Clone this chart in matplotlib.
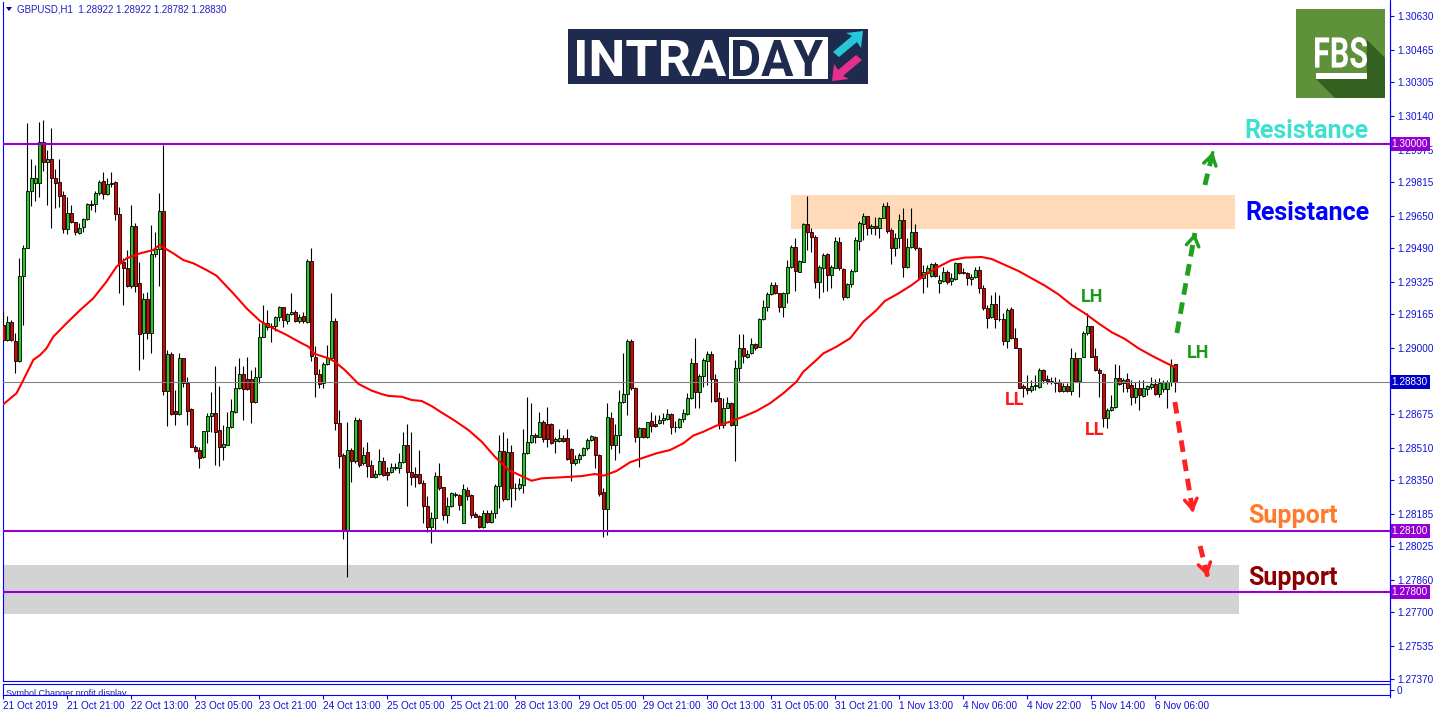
import numpy as np
import matplotlib
matplotlib.use("Agg")
import matplotlib.pyplot as plt
from matplotlib.transforms import Affine2D, blended_transform_factory
from matplotlib.patches import Rectangle, Polygon, PathPatch
from matplotlib.lines import Line2D
from matplotlib.textpath import TextPath
from matplotlib.font_manager import FontProperties

# ---------------- data (GBPUSD H1, prices in points = 1e-5) ----------------
opens_pts = [
129113,129039,129126,129034,128936,129354,129493,129770,129809,129809,
130014,129913,129927,129834,129816,129752,129583,129665,129618,129567,
129592,129633,129706,129706,129760,129819,129759,129805,129816,129657,
129423,129392,129306,129598,129318,129072,129239,129072,129462,129485,
129672,128790,128969,128690,128677,128949,128826,128698,128515,128498,
128462,128590,128666,128679,128597,128515,128525,128610,128687,128803,
128870,128846,128846,128736,128859,129056,129105,129108,129108,129151,
129200,129134,129167,129177,129134,129157,129129,129429,128957,128872,
128826,128919,128952,129132,128629,128474,128100,128498,128446,128646,
128433,128487,128424,128367,128379,128446,128392,128390,128410,128408,
128438,128521,128392,128380,128379,128334,128225,128121,128162,128370,
128315,128179,128223,128277,128277,128138,128302,128277,128182,128174,
128118,128187,128146,128190,128321,128493,128256,128488,128310,128310,
128326,128482,128536,128572,128564,128634,128626,128626,128544,128544,
128557,128557,128501,128436,128454,128472,128506,128546,128564,128474,
128290,128206,128654,128523,128572,128733,128772,129036,128805,128560,
128605,128564,128641,128626,128633,128644,128651,128674,128610,128610,
128649,128674,128752,128924,128785,128864,128937,128968,128847,128752,
128621,128706,128728,128621,128903,128998,128957,128973,129021,129006,
129142,129203,129263,129309,129268,129203,129268,129396,129498,129375,
129424,129608,129572,129547,129326,129395,129460,129358,129395,129519,
129388,129252,129313,129378,129526,129609,129649,129588,129599,129588,
129637,129699,129580,129490,129539,129629,129396,129498,129568,129490,
129342,129367,129352,129411,129317,129329,129372,129329,129339,129416,
129372,129367,129337,129347,129381,129296,129195,129154,129214,129141,
129141,129036,129190,129047,128998,128813,128805,128793,128811,128809,
128891,128847,128834,128829,128834,128790,128814,128790,128949,128839,
128957,129072,129108,128960,128891,128872,128657,128695,128708,128854,
128826,128847,128818,128757,128801,128765,128798,128808,128823,128772,
128798,128796,128834,128922]
highs_pts = [
129179,129157,129138,129072,129441,129506,130104,129927,129900,130109,
130121,129973,130080,129878,129927,129773,129741,129703,129621,129613,
129637,129711,129728,129769,129826,129867,129834,129867,129823,129695,
129441,129482,129703,129613,129424,129269,129277,129605,129572,129760,
129998,128990,128982,128793,128977,128949,128859,128703,128523,128512,
128594,128679,128785,128911,128813,128621,128687,128748,128911,128949,
128911,128957,128892,128908,129121,129211,129187,129121,129157,129206,
129203,129170,129269,129187,129167,129178,129436,129490,129009,128895,
128932,129014,129268,129145,128695,128485,128637,128506,128659,128654,
128515,128539,128449,128400,128501,128465,128416,128433,128433,128482,
128588,128624,128588,128416,128498,128351,128272,128195,128392,128433,
128315,128269,128293,128293,128280,128331,128318,128280,128195,128179,
128203,128203,128203,128329,128572,128588,128556,128523,128334,128359,
128601,128757,128728,128580,128687,128646,128708,128630,128560,128600,
128572,128603,128506,128474,128482,128511,128556,128572,128569,128477,
128310,128728,128687,128624,128793,128973,129044,129044,128810,128610,
128608,128637,128687,128670,128670,128678,128698,128678,128641,128654,
128700,128777,128952,129047,128870,128949,128985,128986,128870,128785,
128755,128760,128736,128941,129067,129067,128990,129047,129023,129149,
129236,129277,129322,129322,129268,129273,129432,129506,129542,129432,
129612,129747,129588,129555,129408,129465,129465,129408,129547,129547,
129394,129321,129386,129547,129624,129662,129649,129608,129645,129642,
129711,129719,129588,129563,129657,129686,129539,129689,129608,129498,
129408,129408,129416,129424,129358,129399,129383,129367,129424,129419,
129395,129372,129362,129399,129404,129309,129211,129260,129277,129260,
129170,129195,129203,129096,129001,128821,128867,128842,128867,128900,
128896,128867,128859,128859,128847,128826,128826,129001,128982,128949,
129083,129170,129108,128998,128900,128875,128703,128769,128919,128916,
128854,128875,128842,128834,128842,128842,128818,128859,128847,128850,
128842,128842,128944,128922]
lows_pts = [
129031,129036,129036,128875,128933,129113,129490,129698,129724,129741,
129870,129703,129588,129687,129695,129564,129560,129613,129556,129560,
129572,129629,129678,129670,129752,129731,129752,129793,129629,129269,
129211,129301,129293,129277,128892,128944,129043,128977,129449,129305,
128769,128616,128671,128621,128671,128810,128621,128515,128490,128412,
128458,128535,128589,128425,128420,128449,128523,128605,128682,128797,
128646,128793,128630,128731,128826,129052,129089,129031,129085,129134,
129105,129118,129162,129129,129121,129121,129124,128937,128757,128801,
128801,128914,128949,128597,128408,128059,127876,128343,128433,128416,
128424,128364,128364,128359,128375,128372,128351,128383,128400,128383,
128436,128223,128326,128315,128331,128138,128097,128039,128105,128302,
128154,128141,128220,128269,128203,128138,128252,128162,128167,128113,
128113,128141,128141,128162,128211,128249,128252,128220,128252,128302,
128285,128479,128531,128531,128560,128539,128515,128528,128485,128539,
128536,128449,128347,128424,128433,128469,128498,128541,128408,128274,
128072,128080,128503,128449,128482,128728,128670,128793,128539,128416,
128556,128559,128588,128613,128624,128624,128646,128575,128588,128605,
128634,128670,128749,128706,128706,128810,128818,128736,128736,128601,
128605,128703,128618,128444,128837,128924,128952,128970,128990,129003,
129137,129182,129260,129263,129178,129154,129219,129391,129280,129372,
129421,129481,129473,129293,129244,129277,129280,129293,129391,129383,
129236,129247,129301,129375,129481,129531,129555,129558,129555,129539,
129637,129563,129411,129453,129490,129350,129391,129490,129481,129342,
129268,129301,129350,129349,129268,129322,129313,129309,129334,129363,
129363,129309,129309,129342,129268,129186,129096,129145,129096,129132,
129014,128998,129042,128998,128801,128760,128772,128785,128793,128805,
128826,128821,128821,128785,128785,128785,128785,128769,128834,128760,
128954,129063,128954,128888,128760,128613,128605,128690,128703,128818,
128785,128785,128719,128728,128695,128760,128769,128798,128769,128760,
128785,128703,128814,128782]
closes_pts = [
129039,129126,129039,128936,129354,129493,129770,129834,129834,130014,
129913,129927,129834,129809,129749,129583,129665,129618,129572,129588,
129634,129706,129703,129760,129816,129755,129806,129809,129657,129416,
129392,129306,129598,129306,129067,129239,129072,129462,129485,129672,
128790,128969,128677,128674,128949,128826,128692,128515,128495,128458,
128590,128666,128679,128589,128515,128526,128610,128690,128803,128870,
128797,128797,128736,128859,129056,129121,129121,129102,129151,129200,
129138,129167,129177,129134,129154,129134,129429,128960,128872,128823,
128919,128952,129132,128629,128470,128100,128498,128446,128646,128424,
128472,128420,128367,128380,128446,128375,128375,128413,128416,128438,
128521,128392,128367,128367,128334,128225,128121,128162,128370,128313,
128179,128223,128285,128280,128228,128305,128274,128179,128170,128118,
128187,128146,128190,128321,128493,128256,128488,128310,128313,128329,
128482,128539,128572,128560,128634,128551,128551,128531,128551,128556,
128544,128456,128436,128454,128472,128506,128547,128565,128474,128280,
128206,128659,128523,128572,128733,128773,129036,128805,128564,128605,
128564,128634,128618,128618,128646,128654,128674,128610,128613,128649,
128678,128752,128924,128785,128864,128941,128968,128847,128739,128621,
128706,128728,128621,128903,128998,128962,128968,129021,128998,129142,
129203,129263,129309,129268,129203,129268,129396,129498,129380,129427,
129608,129572,129547,129326,129398,129457,129358,129398,129526,129391,
129252,129314,129378,129531,129612,129649,129588,129599,129588,129637,
129699,129576,129490,129539,129629,129396,129498,129568,129490,129342,
129372,129391,129411,129355,129334,129372,129326,129342,129419,129367,
129367,129342,129347,129381,129296,129195,129149,129214,129141,129142,
129036,129185,129047,128998,128805,128801,128793,128813,128816,128891,
128842,128839,128837,128831,128790,128814,128790,128949,128839,128949,
129075,129108,128957,128891,128875,128657,128695,128710,128854,128821,
128844,128805,128760,128801,128769,128801,128813,128823,128772,128829,
128831,128834,128916,128830]

# moving average (red line) read at bar positions
ma_bar = [0,3.3,4.6,7.5,9.2,10.8,12.5,15.8,19.2,22.5,25.8,28.3,30.8,34.2,37.5,39,42.5,45,47.5,50.8,
          53.3,57.5,60.8,64.2,67.5,70.8,74.2,76.3,77.9,81.3,82.9,85.4,88.8,92.1,94.6,96.3,99.6,102.1,104.6,107.1,
          109.6,112.9,116.3,119.6,122.9,126.3,129.6,132.1,134.6,139.6,144.6,147.9,150.1,153.3,156.7,160,163.3,166.7,170,172.5,
          175,178.3,181.7,185,188.3,191.7,195,198.3,200,203.3,205,208.3,211.7,215,218.3,220.4,223.8,227.1,230.4,233.8,
          237.1,240.4,244.6,247.1,250.4,253.8,257.1,260.4,263.8,267.1,270.4,273.8,277.1,280.4,283.8,287.1,290.4,293.1]
ma_pts = [128723,128777,128826,128941,128965,128998,129055,129121,129186,129244,129326,129399,129440,129465,129481,129506,129465,129432,129416,129383,
          129355,129268,129195,129132,129096,129064,129027,129006,128970,128949,128932,128891,128823,128790,128773,128764,128760,128744,128739,128714,
          128682,128642,128596,128539,128465,128400,128370,128347,128359,128364,128370,128380,128372,128395,128438,128460,128482,128498,128531,128569,
          128588,128618,128637,128662,128690,128728,128777,128834,128883,128941,128973,129006,129047,129129,129186,129231,129268,129309,129358,129399,
          129432,129444,129447,129437,129408,129378,129342,129306,129263,129211,129170,129121,129077,129044,128998,128962,128929,128903]

time_labels = ["21 Oct 2019", "21 Oct 21:00", "22 Oct 13:00", "23 Oct 05:00", "23 Oct 21:00",
               "24 Oct 13:00", "25 Oct 05:00", "25 Oct 21:00", "28 Oct 13:00", "29 Oct 05:00",
               "29 Oct 21:00", "30 Oct 13:00", "31 Oct 05:00", "31 Oct 21:00", "1 Nov 13:00",
               "4 Nov 06:00", "4 Nov 22:00", "5 Nov 14:00", "6 Nov 06:00"]
label_every = 16
price_ticks = [1.30630, 1.30465, 1.30305, 1.30140, 1.29975, 1.29815, 1.29650, 1.29490, 1.29325,
               1.29165, 1.29000, 1.28675, 1.28510, 1.28350, 1.28185, 1.28025, 1.27860, 1.27700,
               1.27535, 1.27370]
level_lines = [1.30000, 1.28100, 1.27800]
resist_zone = (1.295846, 1.297517)
support_zone = (1.276919, 1.279328)

opens = np.array(opens_pts) / 1e5
highs = np.array(highs_pts) / 1e5
lows = np.array(lows_pts) / 1e5
closes = np.array(closes_pts) / 1e5
ma = np.array(ma_pts) / 1e5

# ---------------- figure ----------------
W, H = 1436, 716
fig = plt.figure(figsize=(W / 100, H / 100), dpi=100)
fig.patch.set_facecolor("white")
BLUE = "#0000FF"
TXT = "#1010D8"
AXF = ["Liberation Sans", "DejaVu Sans"]
LBL = 7.2

def box(x0, y0, x1, y1):
    return [x0 / W, 1 - y1 / H, (x1 - x0) / W, (y1 - y0) / H]

ax = fig.add_axes(box(3, 2, 1390, 681))
sub = fig.add_axes(box(3, 684, 1390, 695), sharex=ax)

n = len(closes)
xb = np.arange(n)
ax.set_xlim(-0.075, 346.675)
ax.set_ylim(1.273626, 1.307005)

# zones
ax.add_patch(Rectangle((196.9, resist_zone[0]), 111.0, resist_zone[1] - resist_zone[0],
                       facecolor="#FFDAB9", edgecolor="none", zorder=1))
ax.add_patch(Rectangle((-2, support_zone[0]), 310.9, support_zone[1] - support_zone[0],
                       facecolor="#D3D3D3", edgecolor="none", zorder=1))

# candles
up = closes >= opens
body_col = np.where(up, "#22CC22", "#E00000")
ax.vlines(xb, lows, highs, color="black", lw=0.8, zorder=3)
bot = np.minimum(opens, closes)
hgt = np.maximum(np.abs(closes - opens), 0.000025)
ax.bar(xb, hgt, bottom=bot, width=0.72, color=body_col, edgecolor="black", linewidth=0.6, zorder=4)

# lines
for lv in level_lines:
    ax.axhline(lv, color="#9400D3", lw=1.5, zorder=5)
ax.axhline(closes[-1], color="#808080", lw=0.8, zorder=5)
ax.plot(ma_bar, ma, color="#FF0000", lw=1.5, zorder=6, solid_capstyle="round")

# annotations
tfont = dict(family=["Roboto", "DejaVu Sans"], weight="bold")
ax.text(325.8, 1.300664, "Resistance", color="#40E0D0", fontsize=18, ha="center", va="center", zorder=8, **tfont)
ax.text(326.05, 1.296633, "Resistance", color="#0000FF", fontsize=18, ha="center", va="center", zorder=8, **tfont)
ax.text(322.3, 1.281737, "Support", color="#FF7A2A", fontsize=18, ha="center", va="center", zorder=8, **tfont)
ax.text(322.3, 1.278689, "Support", color="#8B0000", fontsize=18, ha="center", va="center", zorder=8, **tfont)
ax.text(272.3, 1.292503, "LH", color="#1A9A1A", fontsize=13, ha="center", va="center", zorder=8, **tfont)
ax.text(298.7, 1.289750, "LH", color="#1A9A1A", fontsize=13, ha="center", va="center", zorder=8, **tfont)
ax.text(252.8, 1.287440, "LL", color="#FF1A1A", fontsize=13, ha="center", va="center", zorder=8, **tfont)
ax.text(272.8, 1.285965, "LL", color="#FF1A1A", fontsize=13, ha="center", va="center", zorder=8, **tfont)

def dash_arrow(p0, p1, color):
    ax.plot([p0[0], p1[0]], [p0[1], p1[1]], color=color, lw=3.5, dashes=(2.4, 1.6),
            solid_capstyle="butt", dash_capstyle="butt", zorder=7)
    dx, dy = p1[0] - p0[0], p1[1] - p0[1]
    ax.annotate("", xy=p1, xytext=(p1[0] - dx * 0.02, p1[1] - dy * 0.02),
                arrowprops=dict(arrowstyle="->,head_length=0.7,head_width=0.45", lw=2.5, color=color),
                zorder=7)

GREEN_A = "#1FA01F"
RED_A = "#FF2020"
dash_arrow((293.4, 1.290733), (297.9, 1.295649), GREEN_A)
dash_arrow((300.4, 1.298009), (302.4, 1.299631), GREEN_A)
dash_arrow((292.9, 1.287341), (297.4, 1.281934), RED_A)
dash_arrow((299.2, 1.280262), (301.05, 1.278787), RED_A)

# axes styling
for s in ax.spines.values():
    s.set_color(BLUE)
    s.set_linewidth(0.8)
ax.spines["top"].set_visible(False)
ax.yaxis.tick_right()
ax.set_yticks(price_ticks)
ax.set_yticklabels([f"{v:.5f}" for v in price_ticks], family=AXF)
ax.tick_params(axis="y", colors=BLUE, labelcolor=TXT, length=3, width=0.8, pad=2, labelsize=LBL)
ax.tick_params(axis="x", bottom=False, labelbottom=False)

ytr = blended_transform_factory(ax.transAxes, ax.transData)
def price_tag(v, fc):
    ax.text(1.0012, v, f"{v:.5f}", transform=ytr, color="white", fontsize=LBL, ha="left", va="center",
            family=AXF, bbox=dict(boxstyle="square,pad=0.2", fc=fc, ec="none"), zorder=9, clip_on=False)
for lv in level_lines:
    price_tag(lv, "#9400D3")
price_tag(closes[-1], "#0000C8")

# sub-window
for s in sub.spines.values():
    s.set_color(BLUE)
    s.set_linewidth(0.8)
sub.set_ylim(0, 1)
sub.yaxis.tick_right()
sub.set_yticks([0.5])
sub.set_yticklabels(["0"], family=AXF)
sub.tick_params(axis="y", colors=BLUE, labelcolor=TXT, length=3, width=0.8, pad=2, labelsize=LBL)
tick_pos = np.arange(len(time_labels)) * label_every
sub.set_xticks(tick_pos)
sub.set_xticklabels(time_labels, family=AXF)
sub.tick_params(axis="x", colors=BLUE, labelcolor=TXT, length=3, width=0.8, pad=1.5, labelsize=LBL)
for lbl in sub.get_xticklabels():
    lbl.set_ha("left")
sub.text(0.002, 0.1, "Symbol Changer profit display", transform=sub.transAxes, fontsize=6.5,
         family=AXF, color="#2020A0", ha="left", va="center", clip_on=True)

# ---------------- overlays in pixel coordinates ----------------
T = Affine2D().scale(1 / W, -1 / H).translate(0, 1) + fig.transFigure
LOGO_FP = FontProperties(family=["Roboto", "DejaVu Sans"], weight="bold")

def fit_text(s, x0, x1, ytop, ybot, color, z=12):
    tp = TextPath((0, 0), s, size=100, prop=LOGO_FP)
    bb = tp.get_extents()
    sx = (x1 - x0) / bb.width
    sy = (ybot - ytop) / bb.height
    tr = Affine2D().translate(-bb.x0, -bb.y0).scale(sx, -sy).translate(x0, ybot) + T
    fig.add_artist(PathPatch(tp, fc=color, ec="none", transform=tr, zorder=z))

# title
fig.add_artist(Polygon([(6, 7), (12, 7), (9, 11)], closed=True, fc="#000080", ec="none", transform=T, zorder=10))
fig.text(17, 10, f"GBPUSD,H1  {opens[-1]:.5f} {highs[-1]:.5f} {lows[-1]:.5f} {closes[-1]:.5f}",
         transform=T, fontsize=7, family=AXF, color="#2020C0", ha="left", va="center", zorder=10)

# INTRADAY logo
NAVY = "#1E2B4E"
fig.add_artist(Rectangle((568, 29), 300, 55, fc=NAVY, ec="none", transform=T, zorder=10))
fit_text("INTRA", 577, 726, 40, 76, "white")
fig.add_artist(Rectangle((729, 37), 99, 42, fc="white", ec="none", transform=T, zorder=11))
fit_text("DAY", 733, 823, 40, 76, NAVY)
fig.add_artist(Polygon([(833, 52), (852, 36), (846, 33), (863, 31), (861, 48), (857, 42), (839, 57)],
                       closed=True, fc="#25C7D9", ec="none", transform=T, zorder=12))
fig.add_artist(Polygon([(862, 60), (843, 76), (849, 79), (832, 81), (834, 64), (838, 70), (856, 55)],
                       closed=True, fc="#E6318C", ec="none", transform=T, zorder=12))

# FBS logo
fig.add_artist(Rectangle((1296, 9), 89, 89, fc="#5E9139", ec="none", transform=T, zorder=10))
fig.add_artist(Polygon([(1316, 79), (1367, 79), (1367, 40), (1385, 58), (1385, 98), (1335, 98)],
                       closed=True, fc="#33601F", ec="none", transform=T, zorder=11))
fit_text("FBS", 1315, 1367, 37, 68, "white")
fig.add_artist(Rectangle((1316, 73), 51, 6, fc="white", ec="none", transform=T, zorder=12))

# right axis line continues down
fig.add_artist(Line2D([1390, 1390], [0, 697], color=BLUE, lw=0.8, transform=T, zorder=10))

fig.savefig("out.png", dpi=100, facecolor="white")
